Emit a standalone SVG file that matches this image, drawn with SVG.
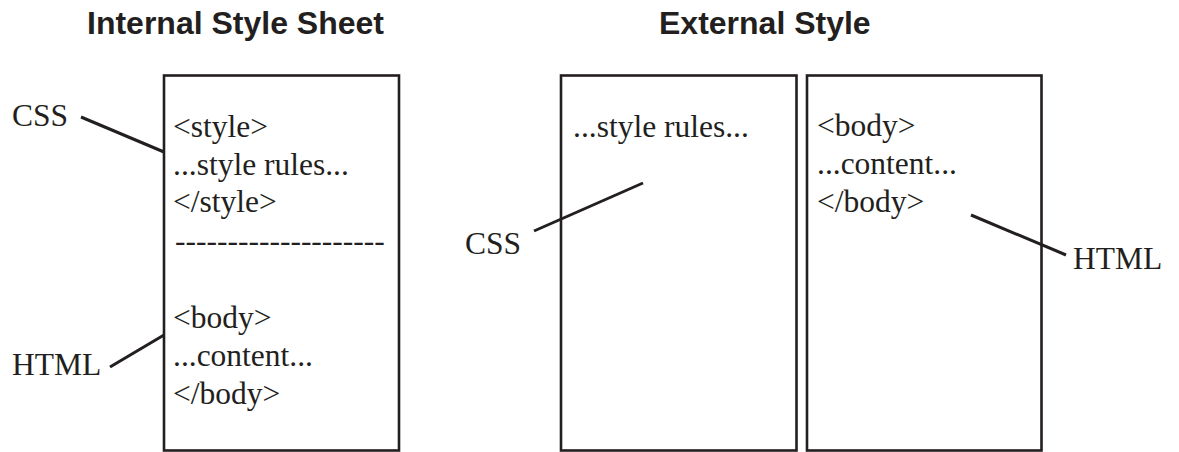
<svg xmlns="http://www.w3.org/2000/svg" width="1179" height="452" viewBox="0 0 1179 452">
<style>
.title{font-family:"Liberation Sans",Arial,sans-serif;font-weight:bold;font-size:32px;fill:#231f20}
.t{font-family:"Liberation Serif","Times New Roman",serif;font-size:31.5px;fill:#231f20}
.box{fill:#fff;stroke:#231f20;stroke-width:2.6}
.conn line{stroke:#231f20;stroke-width:3}
</style>
<rect width="1179" height="452" fill="#fff"/>
<text class="title" x="87" y="34">Internal Style Sheet</text>
<text class="title" x="659" y="34">External Style</text>
<g id="internal">
<rect class="box" x="164" y="75.5" width="235" height="375"/>
<text class="t" x="173" y="137">&lt;style&gt;</text>
<text class="t" x="173" y="175">...style rules...</text>
<text class="t" x="173" y="212">&lt;/style&gt;</text>
<text class="t" x="175" y="251">--------------------</text>
<text class="t" x="173" y="328">&lt;body&gt;</text>
<text class="t" x="173" y="366">...content...</text>
<text class="t" x="173" y="404">&lt;/body&gt;</text>
</g>
<g id="external-css">
<rect class="box" x="561" y="75.5" width="235.5" height="375"/>
<text class="t" x="573" y="137">...style rules...</text>
</g>
<g id="external-html">
<rect class="box" x="807" y="75.5" width="234.5" height="375"/>
<text class="t" x="817" y="136">&lt;body&gt;</text>
<text class="t" x="817" y="174">...content...</text>
<text class="t" x="817" y="212">&lt;/body&gt;</text>
</g>
<g id="label-css-1"><text class="t" x="12" y="126">CSS</text></g>
<g id="label-html-1"><text class="t" x="12" y="375">HTML</text></g>
<g id="label-css-2"><text class="t" x="465" y="254">CSS</text></g>
<g id="label-html-2"><text class="t" x="1073" y="269">HTML</text></g>
<g class="conn" id="connectors">
<line x1="81" y1="117" x2="164" y2="152"/>
<line x1="110" y1="367" x2="164" y2="335"/>
<line x1="534" y1="231" x2="643" y2="183"/>
<line x1="971" y1="215" x2="1066" y2="255"/>
</g>
</svg>
